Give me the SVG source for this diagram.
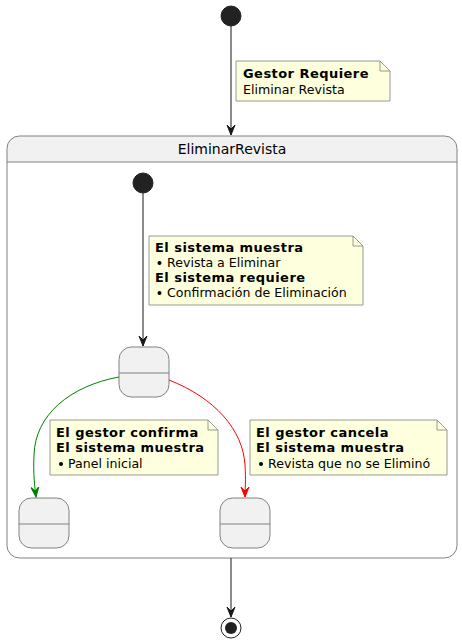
<svg xmlns="http://www.w3.org/2000/svg" width="462" height="644" viewBox="0 0 462 644">
<defs>
<marker id="ahk" markerWidth="12" markerHeight="12" refX="10" refY="5" orient="auto" markerUnits="userSpaceOnUse">
<path d="M0,1 L10,5 L0,9 L4,5 Z" fill="#181818" stroke="#181818" stroke-width="1"/>
</marker>
<marker id="ahg" markerWidth="12" markerHeight="12" refX="10" refY="5" orient="auto" markerUnits="userSpaceOnUse">
<path d="M0,1 L10,5 L0,9 L4,5 Z" fill="#008000" stroke="#008000" stroke-width="1"/>
</marker>
<marker id="ahr" markerWidth="12" markerHeight="12" refX="10" refY="5" orient="auto" markerUnits="userSpaceOnUse">
<path d="M0,1 L10,5 L0,9 L4,5 Z" fill="#FF0000" stroke="#FF0000" stroke-width="1"/>
</marker>
</defs>
<style>
text { font-family: "DejaVu Sans", "Noto Sans", sans-serif; font-size: 12.6px; fill: #000; }
.b { font-weight: bold; font-size: 13px; letter-spacing: 0.45px; }
.state { fill: #F1F1F1; stroke: #808080; stroke-width: 1; }
.div { stroke: #808080; stroke-width: 1; }
.note { fill: #FEFFDD; stroke: #808080; stroke-width: 0.8; }
.fold { fill: none; stroke: #808080; stroke-width: 0.8; }
.init { fill: #222222; stroke: #222222; }
.edge { fill: none; stroke-width: 1; }
</style>
<rect width="462" height="644" fill="#FFFFFF"/>

<g id="container">
<path d="M19,136 L445,136 A12,12 0 0 1 457,148 L457,162 L7,162 L7,148 A12,12 0 0 1 19,136 Z" fill="#F1F1F1"/>
<rect x="7" y="136" width="450" height="422" rx="12.5" ry="12.5" fill="none" stroke="#808080" stroke-width="1"/>
<line x1="7" y1="162" x2="457" y2="162" class="div"/>
<text x="232" y="154" text-anchor="middle" style="font-size:14px">EliminarRevista</text>
</g>

<g id="start">
<circle cx="231" cy="16" r="10" class="init"/>
</g>

<g id="inner_start">
<circle cx="143" cy="183" r="10" class="init"/>
</g>

<g id="state_mid">
<rect x="119" y="347" width="50" height="50" rx="12.5" ry="12.5" class="state"/>
<line x1="119" y1="373" x2="169" y2="373" class="div"/>
</g>

<g id="state_left">
<rect x="19" y="498" width="50" height="50" rx="12.5" ry="12.5" class="state"/>
<line x1="19" y1="524" x2="69" y2="524" class="div"/>
</g>

<g id="state_right">
<rect x="220" y="498" width="50" height="50" rx="12.5" ry="12.5" class="state"/>
<line x1="220" y1="524" x2="270" y2="524" class="div"/>
</g>

<g id="end">
<circle cx="231" cy="628" r="10" fill="none" stroke="#222222" stroke-width="1"/>
<circle cx="231" cy="628" r="6" fill="#222222"/>
</g>

<g id="connectors">
<line x1="231" y1="26" x2="231" y2="135" class="edge" stroke="#181818" marker-end="url(#ahk)"/>
<line x1="143" y1="193" x2="143" y2="346" class="edge" stroke="#181818" marker-end="url(#ahk)"/>
<path d="M119,377 C70,386 35,415 34,455 C33,475 35,488 36,497" class="edge" stroke="#008000" marker-end="url(#ahg)"/>
<path d="M169,380 C215,398 243,430 245,465 C246,480 245,490 245,497" class="edge" stroke="#FF0000" marker-end="url(#ahr)"/>
<line x1="231" y1="558" x2="231" y2="617" class="edge" stroke="#181818" marker-end="url(#ahk)"/>
</g>

<g id="note1">
<path d="M236,61 L380,61 L390,71 L390,101 L236,101 Z" class="note"/>
<path d="M380,61 L380,71 L390,71" class="fold"/>
<text x="243" y="78" class="b">Gestor Requiere</text>
<text x="243" y="94">Eliminar Revista</text>
</g>

<g id="note2">
<path d="M149,236 L353,236 L363,246 L363,305 L149,305 Z" class="note"/>
<path d="M353,236 L353,246 L363,246" class="fold"/>
<text x="155" y="252" class="b">El sistema muestra</text>
<circle cx="159.5" cy="263" r="2" fill="#000"/>
<text x="167" y="267">Revista a Eliminar</text>
<text x="155" y="282" class="b">El sistema requiere</text>
<circle cx="159.5" cy="293" r="2" fill="#000"/>
<text x="167" y="297">Confirmación de Eliminación</text>
</g>

<g id="note3">
<path d="M50,420 L208,420 L218,430 L218,475 L50,475 Z" class="note"/>
<path d="M208,420 L208,430 L218,430" class="fold"/>
<text x="56" y="437" class="b">El gestor confirma</text>
<text x="56" y="452" class="b">El sistema muestra</text>
<circle cx="61" cy="464" r="2" fill="#000"/>
<text x="68" y="468">Panel inicial</text>
</g>

<g id="note4">
<path d="M250,420 L437,420 L447,430 L447,475 L250,475 Z" class="note"/>
<path d="M437,420 L437,430 L447,430" class="fold"/>
<text x="256" y="437" class="b">El gestor cancela</text>
<text x="256" y="452" class="b">El sistema muestra</text>
<circle cx="261" cy="464" r="2" fill="#000"/>
<text x="268" y="468">Revista que no se Eliminó</text>
</g>
</svg>
